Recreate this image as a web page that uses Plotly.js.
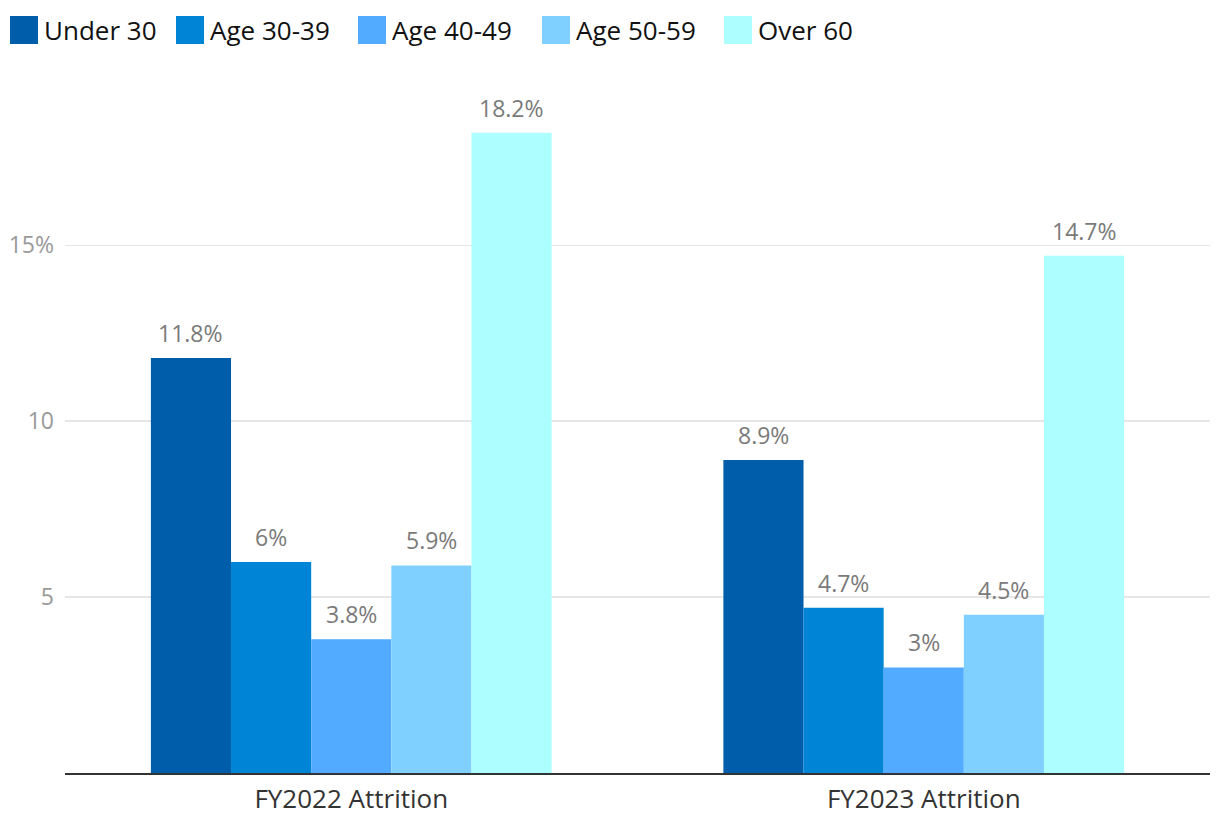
<!DOCTYPE html>
<html>
<head>
<meta charset="utf-8">
<script src="https://cdn.plot.ly/plotly-3.0.1.min.js"></script>
<style>html,body{margin:0;padding:0;background:#fff;}#chart{width:1220px;height:834px;}</style>
</head>
<body>
<div id="chart"></div>
<script>
// ---- data ----
const categories = ["FY2022 Attrition", "FY2023 Attrition"];
const seriesNames = ["Under 30", "Age 30-39", "Age 40-49", "Age 50-59", "Over 60"];
const under30 = [11.8, 8.9];
const age3039 = [6, 4.7];
const age4049 = [3.8, 3];
const age5059 = [5.9, 4.5];
const over60 = [18.2, 14.7];
const yTickVals = [5, 10, 15];
const yTickText = ["5", "10", "15%"];

// ---- style ----
const seriesValues = [under30, age3039, age4049, age5059, over60];
const colors = ["#005DAA", "#0085D6", "#52ABFF", "#80D0FF", "#ADFFFF"];
const FONT = "'Open Sans', sans-serif";
const W = 1220, H = 834;
const M = {l: 65, r: 10, t: 87, b: 61};
const PW = W - M.l - M.r, PH = H - M.t - M.b;
const legendSwatchX = [10, 176, 358, 542, 724];
const px2x = px => (px - M.l) / PW;
const py2y = py => (H - M.b - py) / PH;

const bargap = 0.3;
const nS = seriesNames.length;
const bw = (1 - bargap) / nS;

const traces = seriesNames.map((name, i) => ({
  type: "bar",
  name: name,
  x: categories,
  y: seriesValues[i],
  marker: {color: colors[i], line: {width: 0}},
  hoverinfo: "name+y",
  showlegend: false
}));

const annotations = [];
const shapes = [];
seriesValues.forEach((vals, i) => {
  vals.forEach((v, j) => {
    annotations.push({
      x: j + (i - (nS - 1) / 2) * bw, xref: "x",
      y: v, yref: "y",
      text: v + "%",
      showarrow: false,
      yanchor: "bottom",
      yshift: 7,
      font: {family: FONT, size: 23, color: "#7a7a7a"}
    });
  });
});
seriesNames.forEach((name, i) => {
  const x0 = legendSwatchX[i];
  shapes.push({
    type: "rect", xref: "paper", yref: "paper",
    x0: px2x(x0), x1: px2x(x0 + 28), y0: py2y(44), y1: py2y(16),
    fillcolor: colors[i], line: {width: 0}
  });
  annotations.push({
    x: px2x(x0 + 32), xref: "paper", y: py2y(30), yref: "paper",
    xanchor: "left", yanchor: "middle", showarrow: false,
    text: name, font: {family: FONT, size: 26, color: "#111"}
  });
});

const layout = {
  width: W, height: H,
  margin: M,
  paper_bgcolor: "#fff", plot_bgcolor: "#fff",
  barmode: "group", bargap: bargap, bargroupgap: 0,
  showlegend: false,
  font: {family: FONT},
  xaxis: {
    type: "category",
    showline: true, linecolor: "#333", linewidth: 2,
    showgrid: false, ticks: "",
    tickfont: {family: FONT, size: 26, color: "#333"},
    ticklabelstandoff: 2
  },
  yaxis: {
    range: [0, 19.5],
    tickvals: yTickVals, ticktext: yTickText,
    showgrid: true, gridcolor: "#e6e6e6", gridwidth: 1.5,
    zeroline: false, showline: false, ticks: "",
    tickfont: {family: FONT, size: 23, color: "#999"},
    ticklabelstandoff: 10
  },
  annotations: annotations,
  shapes: shapes
};

Plotly.newPlot("chart", traces, layout, {displayModeBar: false, staticPlot: true});
</script>
</body>
</html>
